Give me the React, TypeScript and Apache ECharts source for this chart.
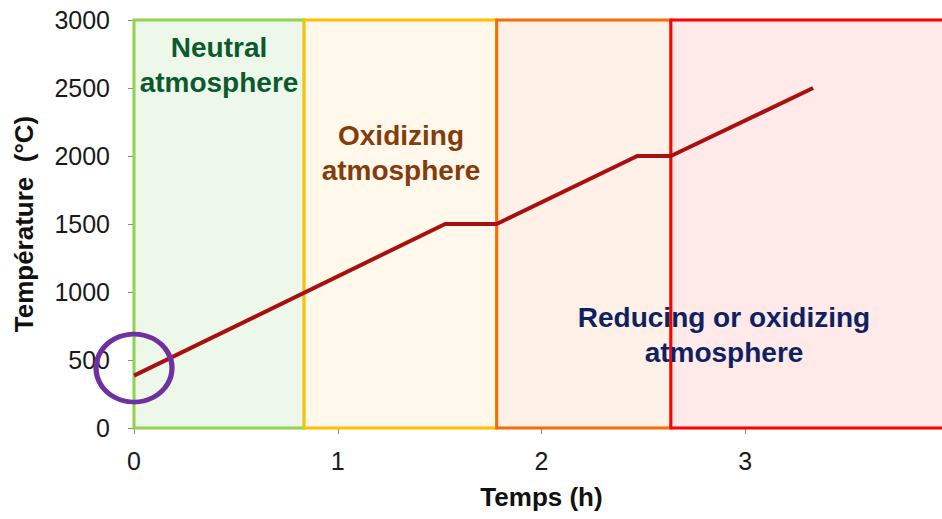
import React, { useEffect, useRef } from "react";
import * as echarts from "echarts";

const timeTicks = [0, 1, 2, 3, 4];
const tempTicks = [0, 500, 1000, 1500, 2000, 2500, 3000];
const profileTime = [0, 1.527, 1.78, 2.47, 2.635, 3.333];
const profileTemp = [385, 1500, 1500, 2000, 2000, 2500];
const zoneBounds = [0, 0.835, 1.78, 2.635, 4];
const zoneNames = ["Neutral\natmosphere", "Oxidizing\natmosphere", "", "Reducing or oxidizing\natmosphere"];
const circlePoint = [0, 441];

const zoneFill = ["#edf8eb", "#fff8eb", "#fff1e8", "#ffe9e9"];
const zoneBorder = ["#92d050", "#ffc000", "#ff6a00", "#ff0000"];

export default function App() {
  const ref = useRef<HTMLDivElement>(null);
  useEffect(() => {
    const chart = echarts.init(ref.current!, null, { renderer: "svg" });
    const areas = zoneFill.map((c, i) => [
      { xAxis: zoneBounds[i], yAxis: tempTicks[0], itemStyle: { color: c, borderColor: zoneBorder[i], borderWidth: 3, opacity: 1 } },
      { xAxis: zoneBounds[i + 1], yAxis: tempTicks[tempTicks.length - 1] },
    ]);
    const font = "'Liberation Sans', Arial, sans-serif";
    chart.setOption({
      animation: false,
      textStyle: { fontFamily: font },
      grid: { left: 134, top: 20, width: 815, height: 408, containLabel: false, outerBoundsMode: "none" },
      xAxis: {
        type: "value",
        min: timeTicks[0],
        max: timeTicks[timeTicks.length - 1],
        interval: 1,
        name: "Temps (h)",
        nameLocation: "middle",
        nameGap: 56,
        nameTextStyle: { fontSize: 26, fontWeight: "bold", color: "#111", fontFamily: font },
        axisLine: { show: true, lineStyle: { color: "#999", width: 1 } },
        axisTick: { show: true, length: 6, lineStyle: { color: "#888" } },
        axisLabel: { fontSize: 25, color: "#1a1a1a", margin: 20, fontFamily: font, formatter: (v: number) => String(v) },
        splitLine: { show: false },
      },
      yAxis: {
        type: "value",
        min: tempTicks[0],
        max: tempTicks[tempTicks.length - 1],
        interval: 500,
        name: "Température  (°C)",
        nameLocation: "middle",
        nameGap: 97,
        nameTextStyle: { fontSize: 26, fontWeight: "bold", color: "#111", fontFamily: font },
        axisLine: { show: true, lineStyle: { color: "#999", width: 1 } },
        axisTick: { show: true, length: 6, lineStyle: { color: "#888" } },
        axisLabel: { fontSize: 25, color: "#1a1a1a", margin: 24, fontFamily: font, formatter: (v: number) => String(v) },
        splitLine: { show: false },
      },
      series: [
        {
          type: "line",
          data: profileTime.map((t, i) => [t, profileTemp[i]]),
          showSymbol: false,
          lineStyle: { color: "#a8100e", width: 4 },
          markArea: { silent: true, data: areas, label: { show: false } },
          z: 3,
        },
        {
          type: "scatter",
          data: [circlePoint],
          symbol: "circle",
          symbolSize: [76, 68],
          clip: false,
          itemStyle: { color: "rgba(0,0,0,0)", borderColor: "#7030a0", borderWidth: 5, opacity: 1 },
          z: 5,
        },
      ],
      graphic: [
        {
          type: "text",
          x: 219,
          y: 65,
          z: 10,
          style: { text: zoneNames[0], font: `bold 28px ${font}`, lineHeight: 35, fill: "#0b5a2e", align: "center", verticalAlign: "middle" },
        },
        {
          type: "text",
          x: 401,
          y: 153,
          z: 10,
          style: { text: zoneNames[1], font: `bold 28px ${font}`, lineHeight: 35, fill: "#843c0c", align: "center", verticalAlign: "middle" },
        },
        {
          type: "text",
          x: 724,
          y: 335,
          z: 10,
          style: { text: zoneNames[3], font: `bold 28px ${font}`, lineHeight: 35, fill: "#0d2260", align: "center", verticalAlign: "middle" },
        },
      ],
    });
    return () => chart.dispose();
  }, []);
  return <div ref={ref} style={{ position: "absolute", left: 0, top: 0, width: 942, height: 519 }} />;
}
